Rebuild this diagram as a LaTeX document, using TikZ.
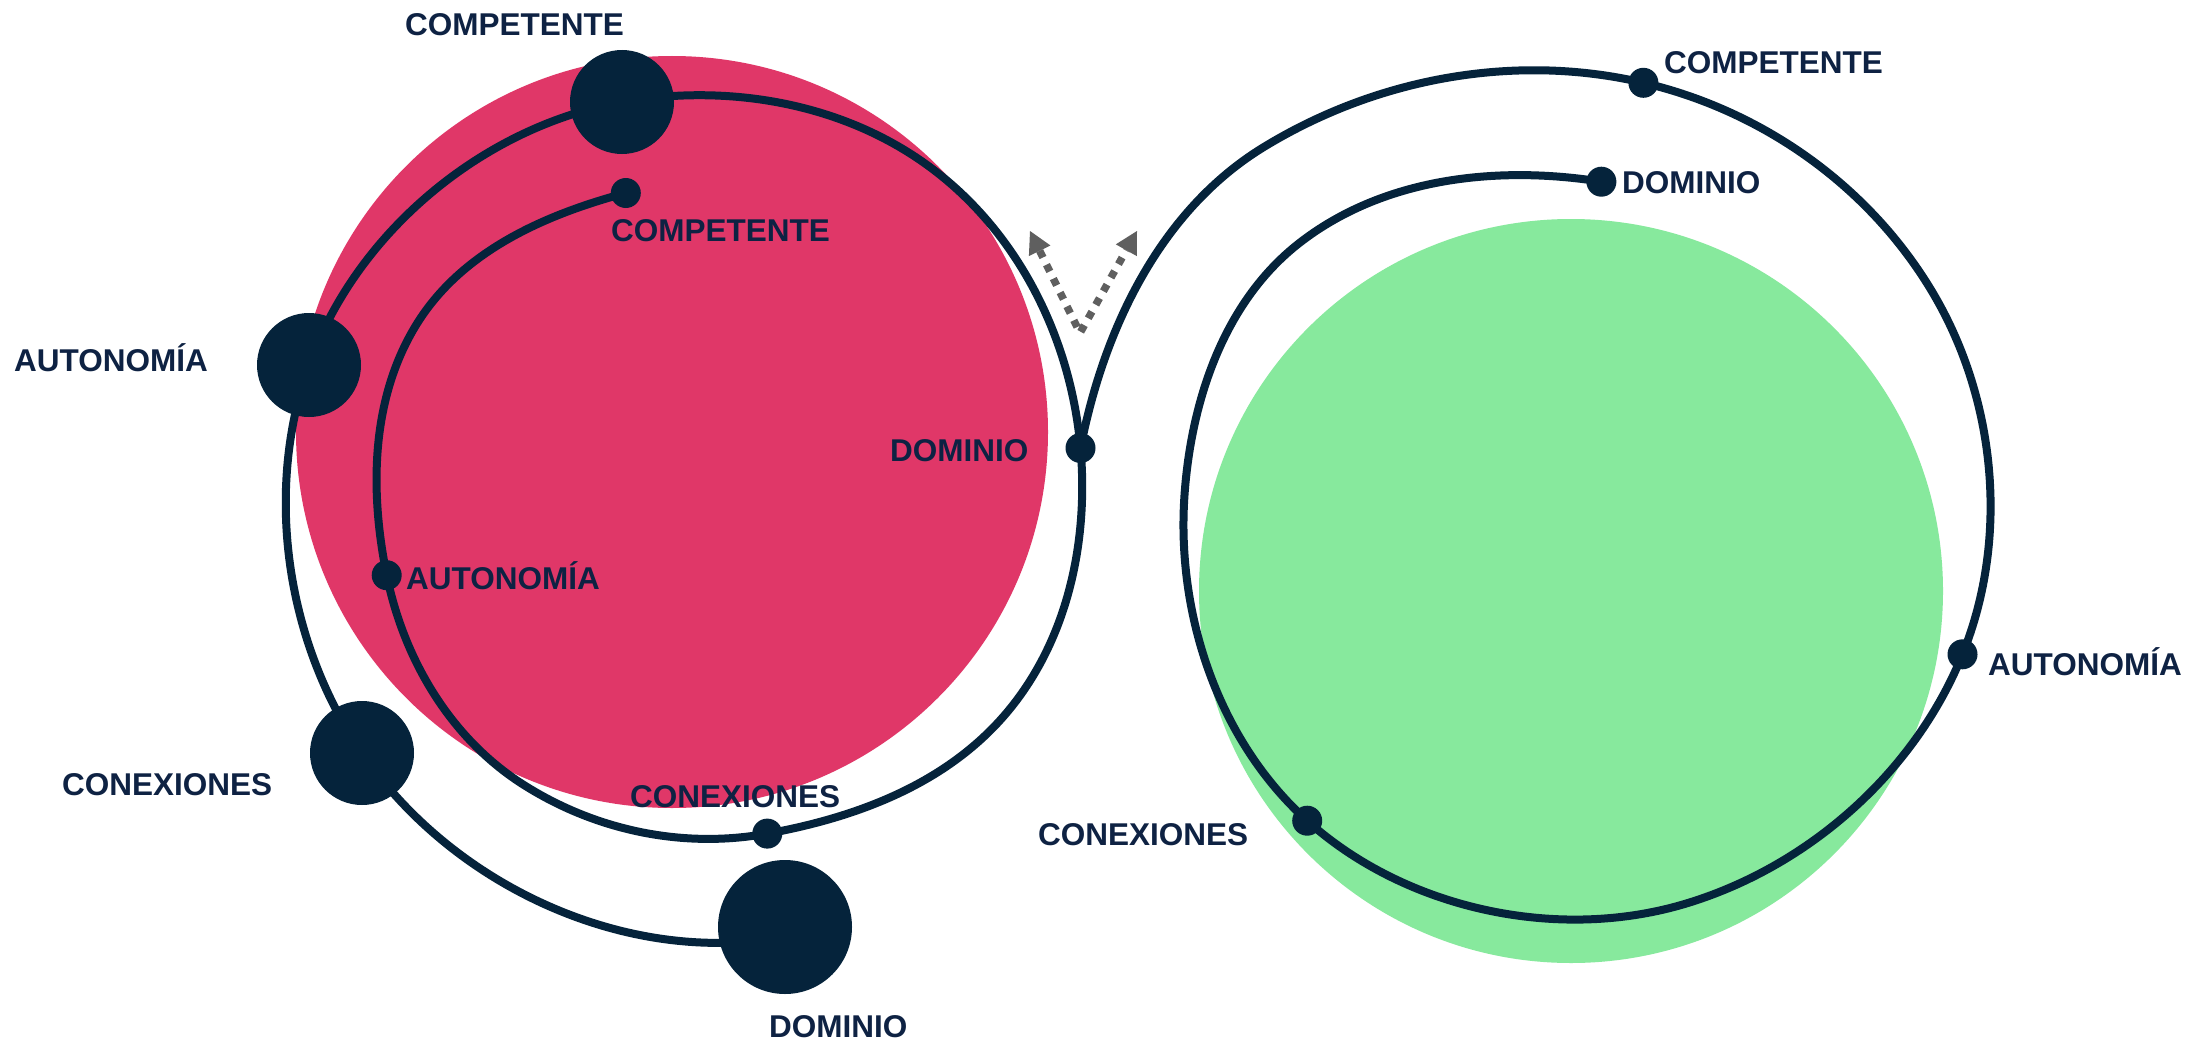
\documentclass[tikz,border=0pt]{standalone}
\usepackage{fontspec}
\setmainfont{Liberation Sans}
\usetikzlibrary{arrows.meta}
\definecolor{navy}{HTML}{05233B}
\definecolor{labelc}{HTML}{0E2243}
\definecolor{rosy}{HTML}{E03768}
\definecolor{mint}{HTML}{87E99D}
\definecolor{arrowgray}{HTML}{5F5F5F}
\begin{document}
\begin{tikzpicture}[x=1pt,y=1pt,
  spiral/.style={draw=navy, line width=8pt, looseness=0.88},
  hugedot/.style={circle, fill=navy, inner sep=0pt, minimum size=134pt},
  bigdot/.style={circle, fill=navy, inner sep=0pt, minimum size=104pt},
  smalldot/.style={circle, fill=navy, inner sep=0pt, minimum size=30pt},
  lbl/.style={anchor=base west, inner sep=0pt, text=labelc, font=\fontsize{31.5}{36}\selectfont\bfseries},
  vline/.style={draw=arrowgray, line width=7.5pt, dash pattern=on 7.5pt off 8pt,
    {Triangle[length=22pt,width=24pt,line width=0pt]}-{Triangle[length=22pt,width=24pt,line width=0pt]}}
]
% canvas (y runs downward as negative values)
\fill[white] (0,0) rectangle (2187,-1041);
\useasboundingbox (0,0) rectangle (2187,-1041);

% background discs
\fill[rosy] (672,-432) circle[radius=376];
\fill[mint] (1571,-591) circle[radius=372];

% points of the left spiral
\coordinate (cP0) at (738.7,-942.3);
\coordinate (cDb) at (785,-927);
\coordinate (cCb) at (362,-753);
\coordinate (cAb) at (309,-365);
\coordinate (cPb) at (622,-102);
\coordinate (cL3) at (932,-168.6);
\coordinate (cJ)  at (1080.5,-448);
\coordinate (cL4) at (1005.6,-714);
\coordinate (cCs) at (767.3,-833.6);
\coordinate (cL5) at (522.5,-784.1);
\coordinate (cAs) at (386.7,-575.2);
\coordinate (cL6) at (417.2,-323.3);
\coordinate (cPs) at (625.8,-193);

% points of the right spiral
\coordinate (cR1) at (1263.7,-147.1);
\coordinate (cPR) at (1643.4,-82.8);
\coordinate (cR2) at (1930.1,-288.3);
\coordinate (cAR) at (1962.5,-654.3);
\coordinate (cR3) at (1685.2,-903.8);
\coordinate (cCR) at (1307.2,-820.7);
\coordinate (cR4) at (1184.5,-495);
\coordinate (cR5) at (1298.6,-243.6);
\coordinate (cDR) at (1601.4,-181.7);

% left spiral
\draw[spiral] (cP0) to[out=183.2,in=304.3] (cCb) to[out=124.3,in=250.4] (cAb)
  to[out=70.4,in=190] (cPb) to[out=10,in=143.1] (cL3) to[out=-36.9,in=95] (cJ)
  to[out=-85,in=49.5] (cL4) to[out=-130.5,in=10.3] (cCs) to[out=-169.7,in=-32.6] (cL5)
  to[out=147.4,in=-78.5] (cAs) to[out=101.5,in=238] (cL6) to[out=58,in=195] (cPs);

% right spiral
\draw[spiral] (cJ) to[out=79,in=211.4] (cR1) to[out=31.4,in=166.8] (cPR)
  to[out=-13.2,in=121.4] (cR2) to[out=-58.6,in=68] (cAR) to[out=-112,in=16.7] (cR3)
  to[out=-163.3,in=-42] (cCR) to[out=138,in=-94] (cR4) to[out=86,in=218.1] (cR5)
  to[out=38.1,in=171] (cDR);

% dots
\node[hugedot] (Db) at (cDb) {};
\node[bigdot] (Cb) at (cCb) {};
\node[bigdot] (Ab) at (cAb) {};
\node[bigdot] (Pb) at (cPb) {};
\node[smalldot] (J) at (cJ) {};
\node[smalldot] (Cs) at (cCs) {};
\node[smalldot] (As) at (cAs) {};
\node[smalldot] (Ps) at (cPs) {};
\node[smalldot] (PR) at (cPR) {};
\node[smalldot] (AR) at (cAR) {};
\node[smalldot] (CR) at (cCR) {};
\node[smalldot] (DR) at (cDR) {};

% dotted V arrows
\coordinate (vl) at (1030,-231);
\coordinate (vb) at (1080,-333);
\coordinate (vr) at (1137,-231);
\draw[vline] (vl) -- (vb) -- (vr);

% labels
\node[lbl] (tPb) at (405,-36) {COMPETENTE};
\node[lbl] (tPs) at (611,-241) {COMPETENTE};
\node[lbl] (tAb) at (14,-371) {AUTONOMÍA};
\node[lbl] (tAs) at (406,-589) {AUTONOMÍA};
\node[lbl] (tJ)  at (890,-461.5) {DOMINIO};
\node[lbl] (tCb) at (62,-795) {CONEXIONES};
\node[lbl] (tCs) at (630,-807) {CONEXIONES};
\node[lbl] (tDb) at (769,-1037) {DOMINIO};
\node[lbl] (tPR) at (1664,-74) {COMPETENTE};
\node[lbl] (tDR) at (1622,-193) {DOMINIO};
\node[lbl] (tAR) at (1988,-675) {AUTONOMÍA};
\node[lbl] (tCR) at (1038,-845) {CONEXIONES};
\end{tikzpicture}
\end{document}
